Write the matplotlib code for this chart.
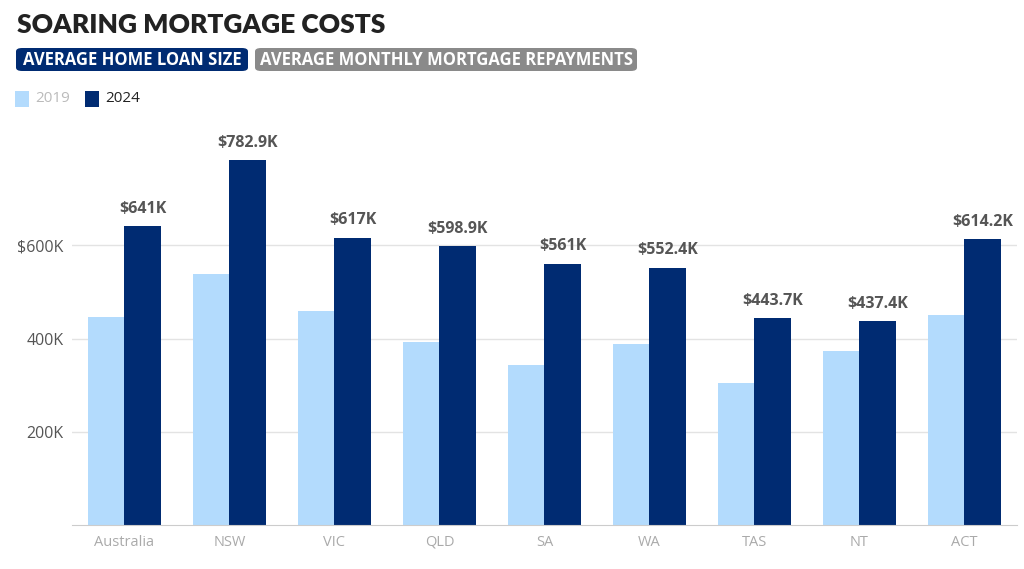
import matplotlib
matplotlib.use("Agg")
import matplotlib.pyplot as plt
from matplotlib.patches import FancyBboxPatch, Rectangle
import numpy as np

plt.rcParams['font.family'] = ['Open Sans', 'DejaVu Sans']

# datos
regions = ['Australia', 'NSW', 'VIC', 'QLD', 'SA', 'WA', 'TAS', 'NT', 'ACT']
loan_2019 = [446, 538, 459, 392, 343, 388, 304, 373, 451]
loan_2024 = [641, 782.9, 617, 598.9, 561, 552.4, 443.7, 437.4, 614.2]
labels_2024 = ['$641K', '$782.9K', '$617K', '$598.9K', '$561K', '$552.4K', '$443.7K', '$437.4K', '$614.2K']
yticks = [200, 400, 600]
ytick_labels = ['200K', '400K', '$600K']

light = '#b3dbfd'
navy = '#002b72'

fig = plt.figure(figsize=(10.24, 5.69), dpi=100)
ax = fig.add_axes([0.0703, 0.0773, 0.9227, 0.696])

x = np.arange(len(regions))
w = 0.346
ax.bar(x - w / 2, loan_2019, w, color=light, zorder=2)
ax.bar(x + w / 2, loan_2024, w, color=navy, zorder=2)

for xi, v, lab in zip(x, loan_2024, labels_2024):
    ax.text(xi + w / 2, v + 20, lab, ha='center', va='bottom', fontsize=11.5,
            fontweight='bold', color='#555555')

ax.set_xlim(-0.5, len(regions) - 0.5)
ax.set_ylim(0, 850)
ax.set_yticks(yticks)
ax.set_yticklabels(ytick_labels)
ax.set_xticks(x)
ax.set_xticklabels(regions)
ax.grid(axis='y', color='#e3e3e3', linewidth=1, zorder=0)
for s in ['top', 'right', 'left']:
    ax.spines[s].set_visible(False)
ax.spines['bottom'].set_color('#cccccc')
ax.tick_params(axis='both', length=0)
ax.tick_params(axis='y', labelsize=11.5, labelcolor='#555555', pad=6)
ax.tick_params(axis='x', labelsize=10.5, labelcolor='#aaaaaa', pad=7)

# titulo
fig.text(17 / 1024, 1 - 25 / 569, 'SOARING MORTGAGE COSTS', fontsize=19, fontweight='heavy',
         color='#222222', va='center', ha='left', family=['Lato', 'DejaVu Sans'])

# botones
def boton(x0, x1, color, texto):
    y0, y1 = 1 - 71 / 569, 1 - 48 / 569
    box = FancyBboxPatch((x0 / 1024, y0), (x1 - x0) / 1024, y1 - y0,
                         boxstyle='round,pad=0,rounding_size=0.006',
                         transform=fig.transFigure, facecolor=color, edgecolor='none')
    fig.patches.append(box)
    fig.text((x0 + x1) / 2 / 1024, (y0 + y1) / 2, texto, ha='center', va='center',
             color='white', fontsize=12, fontweight='bold')

boton(16, 248, navy, 'AVERAGE HOME LOAN SIZE')
boton(255, 637, '#8a8a8a', 'AVERAGE MONTHLY MORTGAGE REPAYMENTS')

# leyenda
for x0, c, t, tc in [(15, light, '2019', '#bbbbbb'), (85, navy, '2024', '#222222')]:
    fig.patches.append(Rectangle((x0 / 1024, 1 - 107 / 569), 14 / 1024, 16 / 569,
                                 transform=fig.transFigure, facecolor=c, edgecolor='none'))
    fig.text((x0 + 20) / 1024, 1 - 99 / 569, t, ha='left', va='center', fontsize=11, color=tc)

fig.savefig('out.png', dpi=100)
